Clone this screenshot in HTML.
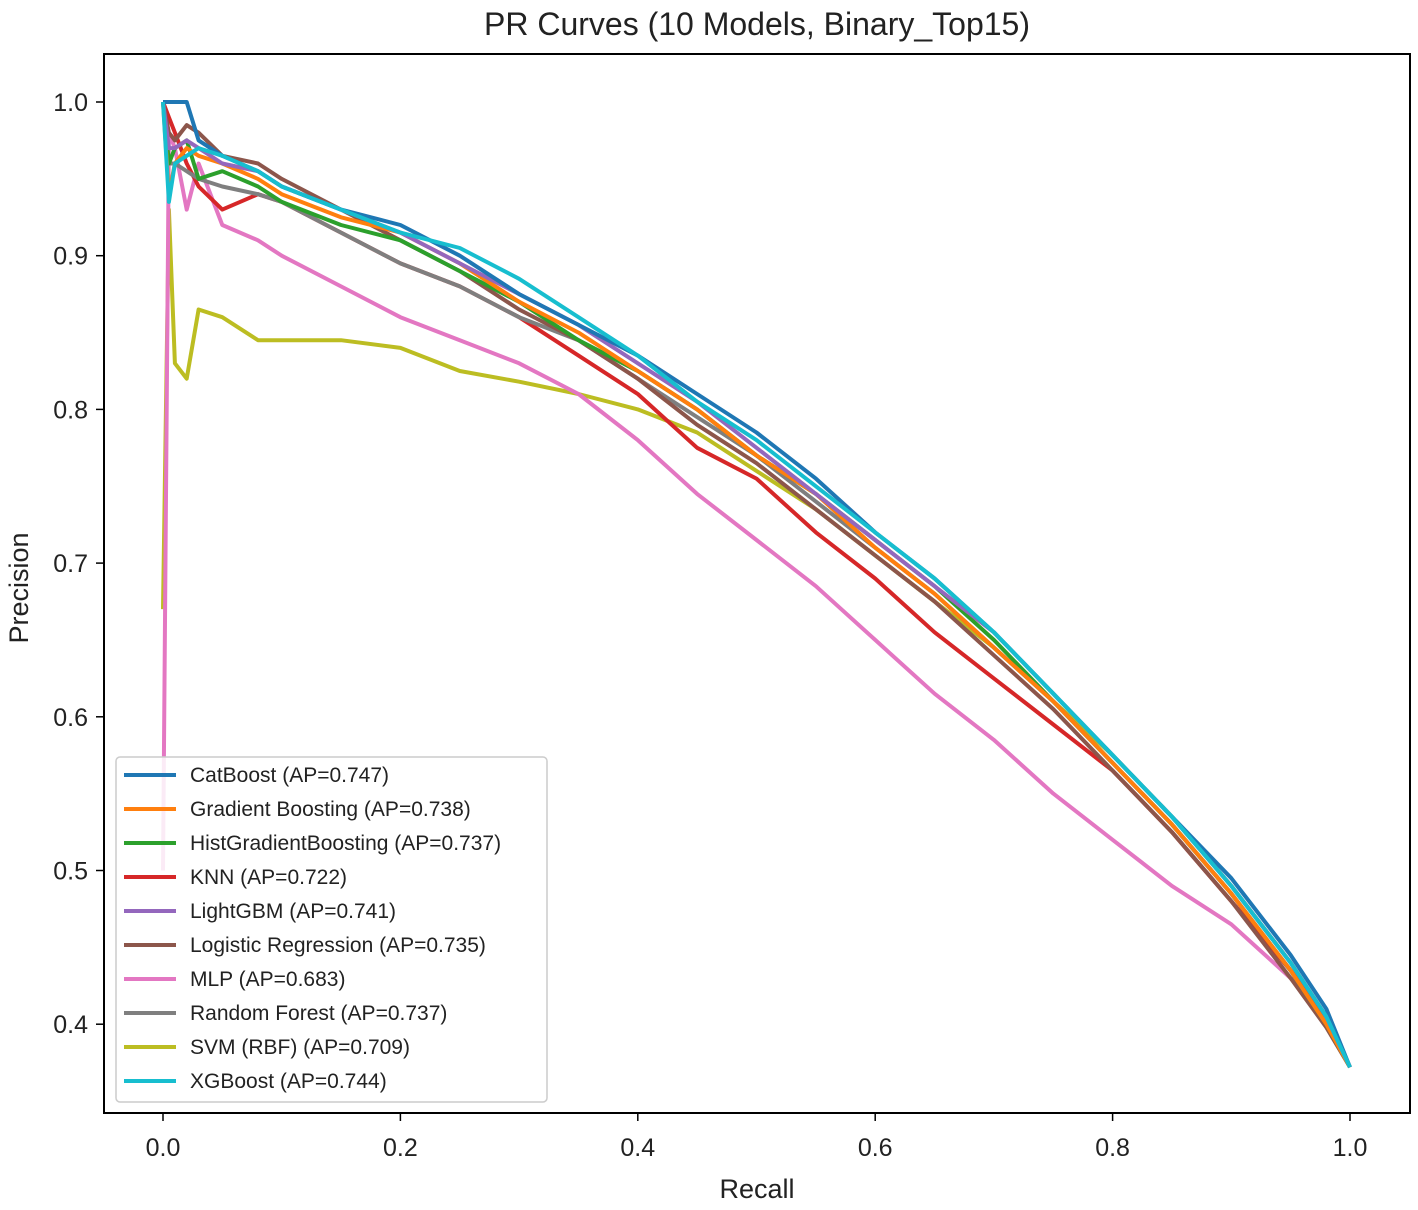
<!DOCTYPE html>
<html><head><meta charset="utf-8"><style>
body{margin:0;background:#fff;}
svg text{font-family:"Liberation Sans","Noto Sans CJK KR",sans-serif;fill:#222;}
</style></head><body>
<svg id="chart" width="1418" height="1205" xmlns="http://www.w3.org/2000/svg">
<rect width="1418" height="1205" fill="#fff"/>
<text x="757" y="35" font-size="32" text-anchor="middle">PR Curves (10 Models, Binary_Top15)</text>
<g id="curves"></g>
<rect x="104" y="54" width="1306" height="1059" fill="none" stroke="#000" stroke-width="2"/>
<g id="ticks"></g>
<text x="757" y="1198" font-size="27" text-anchor="middle">Recall</text>
<text transform="translate(28,588) rotate(-90)" font-size="27" text-anchor="middle">Precision</text>
<g id="legend"></g>
</svg>
<script>
const xTicks=[0.0,0.2,0.4,0.6,0.8,1.0];
const yTicks=[0.4,0.5,0.6,0.7,0.8,0.9,1.0];
const modelNames=["CatBoost (AP=0.747)","Gradient Boosting (AP=0.738)","HistGradientBoosting (AP=0.737)","KNN (AP=0.722)","LightGBM (AP=0.741)","Logistic Regression (AP=0.735)","MLP (AP=0.683)","Random Forest (AP=0.737)","SVM (RBF) (AP=0.709)","XGBoost (AP=0.744)"];
const colors=["#1f77b4","#ff7f0e","#2ca02c","#d62728","#9467bd","#8c564b","#e377c2","#7f7f7f","#bcbd22","#17becf"];
const recallGrid=[0,0.005,0.01,0.02,0.03,0.05,0.08,0.1,0.15,0.2,0.25,0.3,0.35,0.4,0.45,0.5,0.55,0.6,0.65,0.7,0.75,0.8,0.85,0.9,0.95,0.98,1.0];
const catboost=[1.0,1.0,1.0,1.0,0.975,0.965,0.955,0.945,0.93,0.92,0.9,0.875,0.855,0.835,0.81,0.785,0.755,0.72,0.69,0.655,0.615,0.575,0.535,0.495,0.445,0.41,0.372];
const gradboost=[1.0,0.94,0.96,0.97,0.965,0.96,0.95,0.94,0.925,0.915,0.895,0.87,0.85,0.825,0.8,0.77,0.745,0.71,0.68,0.645,0.61,0.57,0.53,0.485,0.435,0.4,0.372];
const histgb=[1.0,0.96,0.97,0.975,0.95,0.955,0.945,0.935,0.92,0.91,0.89,0.87,0.845,0.825,0.8,0.77,0.745,0.715,0.685,0.65,0.61,0.57,0.53,0.485,0.435,0.4,0.372];
const knn=[1.0,0.99,0.98,0.96,0.945,0.93,0.94,0.935,0.915,0.895,0.88,0.86,0.835,0.81,0.775,0.755,0.72,0.69,0.655,0.625,0.595,0.565,0.525,0.48,0.435,0.405,0.372];
const lightgbm=[1.0,0.97,0.97,0.975,0.97,0.96,0.955,0.945,0.93,0.915,0.895,0.875,0.855,0.83,0.805,0.775,0.745,0.715,0.685,0.655,0.615,0.575,0.535,0.49,0.44,0.405,0.372];
const logreg=[1.0,0.98,0.975,0.985,0.98,0.965,0.96,0.95,0.93,0.91,0.89,0.865,0.845,0.82,0.79,0.765,0.735,0.705,0.675,0.64,0.605,0.565,0.525,0.48,0.43,0.398,0.372];
const mlp=[0.5,0.98,0.97,0.93,0.96,0.92,0.91,0.9,0.88,0.86,0.845,0.83,0.81,0.78,0.745,0.715,0.685,0.65,0.615,0.585,0.55,0.52,0.49,0.465,0.43,0.405,0.372];
const rforest=[1.0,0.96,0.96,0.955,0.95,0.945,0.94,0.935,0.915,0.895,0.88,0.86,0.845,0.82,0.795,0.77,0.74,0.71,0.68,0.645,0.61,0.57,0.53,0.485,0.435,0.4,0.372];
const svm=[0.67,0.93,0.83,0.82,0.865,0.86,0.845,0.845,0.845,0.84,0.825,0.818,0.81,0.8,0.785,0.76,0.735,0.705,0.675,0.645,0.61,0.575,0.535,0.49,0.44,0.405,0.372];
const xgboost=[1.0,0.935,0.96,0.965,0.97,0.965,0.955,0.945,0.93,0.915,0.905,0.885,0.86,0.835,0.805,0.78,0.75,0.72,0.69,0.655,0.615,0.575,0.535,0.49,0.44,0.405,0.372];
const series=[catboost,gradboost,histgb,knn,lightgbm,logreg,mlp,rforest,svm,xgboost];
const seriesKeys=["catboost","gradient-boosting","histgradientboosting","knn","lightgbm","logistic-regression","mlp","random-forest","svm-rbf","xgboost"];
const NS="http://www.w3.org/2000/svg";
function xs(v){return 163+v*1187;}
function ys(v){return 102+(1.0-v)*1537;}
const cg=document.getElementById('curves');
const drawOrder=[8,6,3,7,5,2,1,4,0,9];
drawOrder.forEach(i=>{
  const p=document.createElementNS(NS,'path');
  let d='';
  series[i].forEach((v,j)=>{d+=(j?'L':'M')+xs(recallGrid[j]).toFixed(1)+','+ys(v).toFixed(1);});
  p.setAttribute('d',d);p.setAttribute('fill','none');p.setAttribute('stroke',colors[i]);p.setAttribute('stroke-width','4');p.setAttribute('stroke-linejoin','round');
  
  
  cg.appendChild(p);
});
const tg=document.getElementById('ticks');
xTicks.forEach(t=>{
  const l=document.createElementNS(NS,'line');
  l.setAttribute('x1',xs(t));l.setAttribute('x2',xs(t));l.setAttribute('y1',1113);l.setAttribute('y2',1121);l.setAttribute('stroke','#000');l.setAttribute('stroke-width','1.5');
  
  
  tg.appendChild(l);
  const tx=document.createElementNS(NS,'text');
  tx.setAttribute('x',xs(t));tx.setAttribute('y',1156);tx.setAttribute('font-size','25');tx.setAttribute('text-anchor','middle');
  tx.textContent=t.toFixed(1);
  
  
  tg.appendChild(tx);
});
yTicks.forEach(t=>{
  const l=document.createElementNS(NS,'line');
  l.setAttribute('x1',96);l.setAttribute('x2',104);l.setAttribute('y1',ys(t));l.setAttribute('y2',ys(t));l.setAttribute('stroke','#000');l.setAttribute('stroke-width','1.5');
  
  
  tg.appendChild(l);
  const tx=document.createElementNS(NS,'text');
  tx.setAttribute('x',88);tx.setAttribute('y',ys(t)+9);tx.setAttribute('font-size','25');tx.setAttribute('text-anchor','end');
  tx.textContent=t.toFixed(1);
  
  
  tg.appendChild(tx);
});
const lg=document.getElementById('legend');
const box=document.createElementNS(NS,'rect');
box.setAttribute('x',116);box.setAttribute('y',757);box.setAttribute('width',431);box.setAttribute('height',345);box.setAttribute('rx',4);
box.setAttribute('fill','#fff');box.setAttribute('fill-opacity','0.85');box.setAttribute('stroke','#ccc');box.setAttribute('stroke-width','1.5');


lg.appendChild(box);
modelNames.forEach((n,i)=>{
  const y=775+i*34;
  const l=document.createElementNS(NS,'line');
  l.setAttribute('x1',124);l.setAttribute('x2',176);l.setAttribute('y1',y);l.setAttribute('y2',y);l.setAttribute('stroke',colors[i]);l.setAttribute('stroke-width','4');
  
  
  lg.appendChild(l);
  const tx=document.createElementNS(NS,'text');
  tx.setAttribute('x',190);tx.setAttribute('y',y+7);tx.setAttribute('font-size','21');
  tx.textContent=n;
  
  
  lg.appendChild(tx);
});
</script>
</body></html>
